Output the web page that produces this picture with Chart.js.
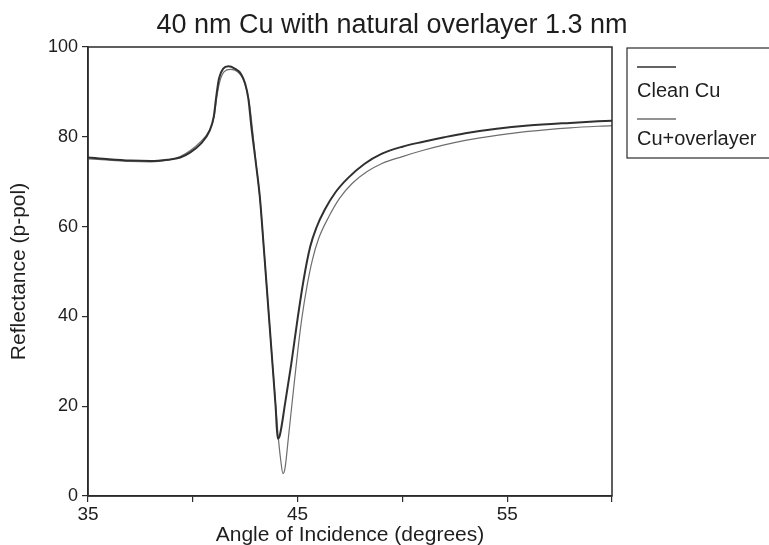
<!DOCTYPE html>
<html>
<head>
<meta charset="utf-8">
<script src="https://cdn.jsdelivr.net/npm/chart.js@4/dist/chart.umd.min.js"></script>
<style>
  html, body { margin: 0; padding: 0; background: #fff; }
  #wrap { width: 769px; height: 545px; }
</style>
</head>
<body>
<div id="wrap"><canvas id="sprChart" width="769" height="545"></canvas></div>
<script>
// angle of incidence (degrees) and p-pol reflectance
const cleanAngle = [35, 36, 37, 38, 38.8, 39.4, 39.9, 40.35, 40.8, 41.0, 41.12, 41.25, 41.45, 41.7,
    42.0, 42.3, 42.5, 42.65, 42.8, 43.0, 43.2, 43.4, 43.6, 43.8, 43.95, 44.05, 44.15, 44.4, 44.7,
    45.0, 45.3, 45.6, 45.9, 46.3, 46.8, 47.4, 48.2, 49.0, 50.0, 51.0, 52.0, 53.0, 54.5, 56.0, 58.0, 60.0];
const cleanR = [75.4, 75.0, 74.7, 74.6, 74.9, 75.4, 76.6, 78.3, 81.3, 84.5, 89, 93, 95.2, 95.7,
    95.2, 94.0, 91.8, 88.5, 82, 74.5, 66.5, 54.5, 42, 29.5, 20, 12.8, 13.5, 20.5, 29.5,
    39.5, 48.5, 55.5, 59.8, 63.8, 67.6, 70.8, 74.0, 76.2, 77.8, 78.9, 79.9, 80.8, 81.8, 82.5, 83.1, 83.6];

const overAngle = [35, 36, 37, 38, 38.8, 39.4, 39.9, 40.35, 40.8, 41.02, 41.15, 41.3, 41.5, 41.8,
    42.1, 42.35, 42.55, 42.7, 42.85, 43.0, 43.2, 43.4, 43.6, 43.8, 43.95, 44.1, 44.2, 44.3, 44.4,
    44.55, 44.8, 45.0, 45.2, 45.45, 45.7, 46.0, 46.5, 47.0, 47.6, 48.3, 49.0, 50.0, 51.0, 52.0,
    53.0, 54.5, 56.0, 58.0, 60.0];
const overR = [75.1, 74.8, 74.5, 74.4, 74.8, 75.6, 77.0, 78.8, 81.5, 84.5, 89, 92.5, 94.5, 95.0,
    94.6, 93.3, 90.8, 87.5, 81.5, 74.8, 66.5, 54.5, 42, 29.5, 20.5, 12, 7.8, 5.0, 6.2,
    12.5, 23.5, 32, 39.5, 46.8, 52.5, 57.3, 62.3, 66.3, 69.6, 72.2, 74.0, 75.6, 77.0, 78.2,
    79.2, 80.3, 81.2, 82.0, 82.5];

const seriesNames = ['Clean Cu', 'Cu+overlayer'];
const xLabelled = [35, 45, 55];
const chartTitle = '40 nm Cu with natural overlayer 1.3 nm';

const FONT = "'Liberation Sans', Arial, Helvetica, sans-serif";
const INK = '#2b2b2b';

function toPoints(xs, ys) {
    return xs.map((x, i) => ({ x: x, y: ys[i] }));
}

// title, frame round the plot and the boxed legend on the right
const framePlugin = {
    id: 'frame',
    afterDraw(chart) {
        const { ctx, chartArea: a } = chart;
        ctx.save();
        ctx.fillStyle = '#1e1e1e';
        ctx.font = '27px ' + FONT;
        ctx.textAlign = 'center';
        ctx.textBaseline = 'middle';
        ctx.fillText(chartTitle, 392, 26);

        ctx.strokeStyle = INK;
        ctx.lineWidth = 1.5;
        ctx.strokeRect(a.left, a.top, a.right - a.left, a.bottom - a.top);

        // legend box
        ctx.lineWidth = 1.2;
        ctx.strokeRect(627, 48, 160, 110);
        ctx.font = '20px ' + FONT;
        ctx.textAlign = 'left';
        const ds = chart.data.datasets;
        const rows = [[67, 91], [119, 139]];
        ds.forEach((d, i) => {
            ctx.strokeStyle = d.borderColor;
            ctx.lineWidth = 1.3;
            ctx.beginPath();
            ctx.moveTo(637, rows[i][0]);
            ctx.lineTo(676, rows[i][0]);
            ctx.stroke();
            ctx.fillText(d.label, 637, rows[i][1]);
        });
        ctx.restore();
    }
};

const data = {
    datasets: [{
        label: seriesNames[0],
        data: toPoints(cleanAngle, cleanR),
        borderColor: '#303030',
        borderWidth: 2,
        pointRadius: 0,
        cubicInterpolationMode: 'monotone',
        fill: false
    }, {
        label: seriesNames[1],
        data: toPoints(overAngle, overR),
        borderColor: '#6e6e6e',
        borderWidth: 1.2,
        pointRadius: 0,
        cubicInterpolationMode: 'monotone',
        fill: false
    }]
};

const config = {
    type: 'line',
    data: data,
    plugins: [framePlugin],
    options: {
        responsive: false,
        animation: false,
        layout: { padding: { top: 47, right: 157, left: 0, bottom: 0 } },
        plugins: {
            legend: { display: false },
            tooltip: { enabled: false },
            title: { display: false }
        },
        scales: {
            x: {
                type: 'linear',
                min: 35,
                max: 60,
                afterFit(scale) { scale.height = 49; },
                grid: { display: true, drawOnChartArea: false, drawTicks: true, tickLength: 6, color: INK, lineWidth: 1.2 },
                border: { display: true, color: INK, width: 1.5 },
                ticks: {
                    stepSize: 5,
                    maxRotation: 0,
                    padding: 1,
                    color: '#1e1e1e',
                    font: { family: FONT, size: 19 },
                    callback: (v) => xLabelled.includes(v) ? String(v) : ''
                },
                title: {
                    display: true,
                    text: 'Angle of Incidence (degrees)',
                    color: '#1e1e1e',
                    font: { family: FONT, size: 21 },
                    padding: { top: 0, bottom: -3 }
                }
            },
            y: {
                min: 0,
                max: 100,
                afterFit(scale) { scale.width = 88; },
                grid: { display: true, drawOnChartArea: false, drawTicks: true, tickLength: 6, color: INK, lineWidth: 1.2 },
                border: { display: true, color: INK, width: 1.5 },
                ticks: {
                    stepSize: 20,
                    padding: 4,
                    color: '#1e1e1e',
                    font: { family: FONT, size: 18 }
                },
                title: {
                    display: true,
                    text: 'Reflectance (p-pol)',
                    color: '#1e1e1e',
                    font: { family: FONT, size: 21 },
                    padding: { top: 7, bottom: 0 }
                }
            }
        }
    }
};

var sprChart = new Chart(
    document.getElementById('sprChart'),
    config
);
</script>
</body>
</html>
